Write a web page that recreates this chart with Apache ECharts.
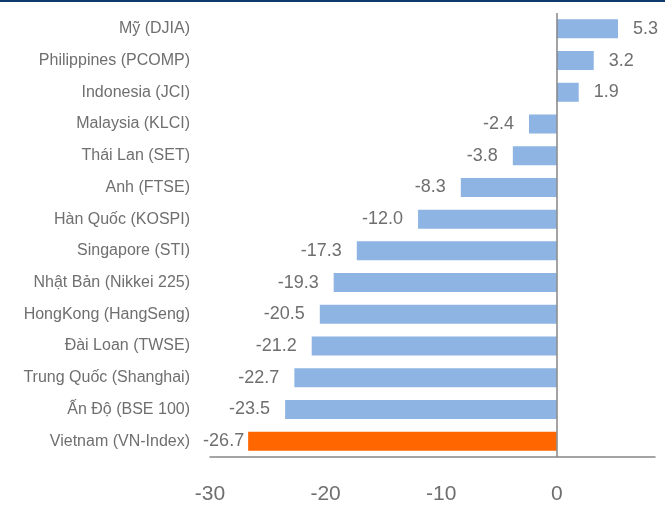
<!DOCTYPE html>
<html>
<head>
<meta charset="utf-8">
<script src="https://cdn.jsdelivr.net/npm/echarts@6/dist/echarts.min.js"></script>
<style>
  html, body { margin: 0; padding: 0; background: #fff; }
  #chart { width: 665px; height: 518px; }
</style>
</head>
<body>
<div id="chart"></div>
<script>
// chỉ số, từ trên xuống dưới
const markets = [
  'Mỹ (DJIA)', 'Philippines (PCOMP)', 'Indonesia (JCI)', 'Malaysia (KLCI)',
  'Thái Lan (SET)', 'Anh (FTSE)', 'Hàn Quốc (KOSPI)', 'Singapore (STI)',
  'Nhật Bản (Nikkei 225)', 'HongKong (HangSeng)', 'Đài Loan (TWSE)',
  'Trung Quốc (Shanghai)', 'Ấn Độ (BSE 100)', 'Vietnam (VN-Index)'
]
const changes = [5.3, 3.2, 1.9, -2.4, -3.8, -8.3, -12.0, -17.3, -19.3, -20.5, -21.2, -22.7, -23.5, -26.7]
const highlight = 'Vietnam (VN-Index)'

const chart = echarts.init(document.getElementById('chart'))

const barData = changes.map((v, i) => {
  const isVN = markets[i] === highlight
  return {
    value: v,
    itemStyle: { color: isVN ? '#FF6600' : '#8EB4E3' },
    // nhãn VN sát thanh hơn để không đè lên tên
    label: { position: v >= 0 ? 'right' : 'left', distance: isVN ? 4 : 15 }
  }
})

chart.setOption({
  animation: false,
  graphic: [
    { type: 'rect', left: 0, top: 0, shape: { width: 665, height: 2 }, style: { fill: '#0E3A6B' } }
  ],
  grid: { left: 210, right: 10, top: 13, bottom: 61 },
  xAxis: {
    type: 'value',
    min: -30,
    max: 8.5,
    interval: 10,
    splitLine: { show: false },
    axisTick: { show: false },
    axisLine: { show: true, lineStyle: { color: '#868686', width: 1.5 } },
    axisLabel: {
      color: '#6f6f6f',
      fontSize: 21,
      fontFamily: 'Liberation Sans',
      margin: 27,
      showMaxLabel: false,
      formatter: v => (v > 0 ? '' : v)
    }
  },
  yAxis: {
    type: 'category',
    data: markets,
    inverse: true,
    axisLine: { show: false, onZero: false },
    axisTick: { show: false },
    axisLabel: {
      color: '#6f6f6f',
      fontSize: 16,
      fontFamily: 'Liberation Sans',
      margin: 20
    }
  },
  series: [
    {
      type: 'bar',
      data: barData,
      barWidth: '60%',
      label: {
        show: true,
        color: '#6f6f6f',
        fontSize: 18,
        fontFamily: 'Liberation Sans',
        formatter: p => p.value.toFixed(1)
      },
      markLine: {
        silent: true,
        symbol: 'none',
        label: { show: false },
        lineStyle: { color: '#868686', type: 'solid', width: 1.5 },
        data: [{ xAxis: 0 }]
      }
    }
  ]
})
</script>
</body>
</html>
